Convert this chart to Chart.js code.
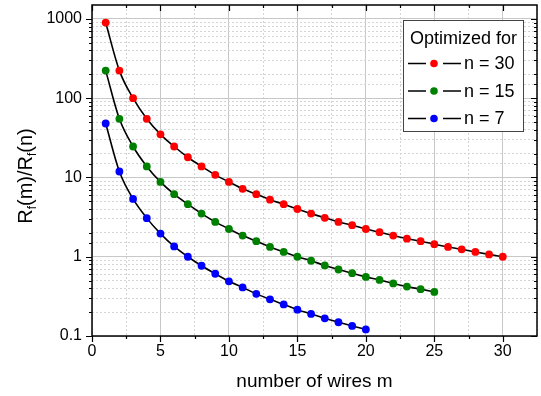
<!DOCTYPE html>
<html>
<head>
<meta charset="utf-8">
<script src="https://cdn.jsdelivr.net/npm/chart.js@4.4.1/dist/chart.umd.min.js"></script>
<style>
  html, body { margin: 0; padding: 0; background: #fff; }
  #wrap { width: 541px; height: 396px; }
</style>
</head>
<body>
<div id="wrap"><canvas id="chart" width="541" height="396"></canvas></div>
<script>
// number of wires m for each series
const mN30 = [1, 2, 3, 4, 5, 6, 7, 8, 9, 10, 11, 12, 13, 14, 15, 16, 17, 18, 19, 20, 21, 22, 23, 24, 25, 26, 27, 28, 29, 30];
const mN15 = [1, 2, 3, 4, 5, 6, 7, 8, 9, 10, 11, 12, 13, 14, 15, 16, 17, 18, 19, 20, 21, 22, 23, 24, 25];
const mN7 = [1, 2, 3, 4, 5, 6, 7, 8, 9, 10, 11, 12, 13, 14, 15, 16, 17, 18, 19, 20];

// Rf(m)/Rf(n)
const ratioN30 = [900, 223, 100, 55, 35, 24.6, 18, 13.8, 10.8, 8.8, 7.2, 6.15, 5.25, 4.6, 4.0,
                  3.5, 3.1, 2.75, 2.5, 2.24, 2.04, 1.85, 1.69, 1.57, 1.44, 1.33, 1.24, 1.15, 1.07, 1.0];
const ratioN15 = [223, 55, 24.6, 13.8, 8.8, 6.15, 4.6, 3.5, 2.75, 2.24, 1.85, 1.57, 1.33, 1.15, 1.0,
                  0.89, 0.776, 0.69, 0.62, 0.557, 0.51, 0.46, 0.42, 0.39, 0.36];
const ratioN7 = [48, 11.9, 5.36, 3.07, 1.96, 1.35, 1.0, 0.77, 0.61, 0.49, 0.41, 0.34, 0.29, 0.25, 0.215,
                 0.19, 0.167, 0.149, 0.134, 0.121];

const seriesLabels = ["n = 30", "n = 15", "n = 7"];
const seriesColors = ["#ff0000", "#008000", "#0000ff"];
const xTickLabels = [0, 5, 10, 15, 20, 25, 30];
const yTickLabels = [0.1, 1, 10, 100, 1000];

const FONT = "'Liberation Sans', Arial, sans-serif";

const toPoints = (xs, ys) => xs.map((x, i) => ({ x: x, y: ys[i] }));

const isDecade = v => Math.abs(Math.log10(v) - Math.round(Math.log10(v))) < 1e-9;
const isFive = v => Math.abs(v / 5 - Math.round(v / 5)) < 1e-9;

function makeSet(label, xs, ys, color) {
    return {
        label: label,
        data: toPoints(xs, ys),
        borderColor: "#000",
        borderWidth: 1.6,
        pointBackgroundColor: color,
        pointBorderColor: color,
        pointBorderWidth: 0,
        pointRadius: 3.9,
        cubicInterpolationMode: "monotone",
        clip: false
    };
}

// frame, tick marks, rotated y title with subscripts, legend box
const decorations = {
    id: "decorations",
    afterDraw(chart) {
        const { ctx, chartArea: a, scales } = chart;
        const xs = scales.x, ys = scales.y;
        ctx.save();
        ctx.strokeStyle = "#000";
        ctx.lineWidth = 1.2;

        // ticks
        ctx.beginPath();
        xs.ticks.forEach(t => {
            if (t.value > 32.4) return;
            const px = Math.round(xs.getPixelForValue(t.value)) + 0.5;
            const len = isFive(t.value) ? 6 : 3;
            ctx.moveTo(px, a.bottom); ctx.lineTo(px, a.bottom + len);
            ctx.moveTo(px, a.top); ctx.lineTo(px, a.top + len);
        });
        ys.ticks.forEach(t => {
            if (t.value > 1000) return;
            const py = Math.round(ys.getPixelForValue(t.value)) + 0.5;
            const len = isDecade(t.value) ? 6 : 3;
            ctx.moveTo(a.left, py); ctx.lineTo(a.left - len, py);
            ctx.moveTo(a.right, py); ctx.lineTo(a.right - len, py);
        });
        ctx.stroke();

        // frame
        ctx.lineWidth = 1.5;
        ctx.strokeRect(a.left, a.top, a.right - a.left, a.bottom - a.top);

        // y title: Rf(m)/Rf(n)
        const parts = [["R", 0], ["f", 1], ["(m)/R", 0], ["f", 1], ["(n)", 0]];
        const big = "20px " + FONT, small = "12px " + FONT;
        let total = 0;
        parts.forEach(p => { ctx.font = p[1] ? small : big; total += ctx.measureText(p[0]).width; });
        ctx.translate(32, 176);
        ctx.rotate(-Math.PI / 2);
        ctx.fillStyle = "#000";
        ctx.textBaseline = "alphabetic";
        ctx.textAlign = "left";
        let x = -total / 2;
        parts.forEach(p => {
            ctx.font = p[1] ? small : big;
            ctx.fillText(p[0], x, p[1] ? 4 : 0);
            x += ctx.measureText(p[0]).width;
        });
        ctx.setTransform(1, 0, 0, 1, 0, 0);

        // legend
        const lx = 403, ly = 20, lw = 120, lh = 111;
        ctx.fillStyle = "#fff";
        ctx.fillRect(lx, ly, lw, lh);
        ctx.strokeStyle = "#444";
        ctx.lineWidth = 1;
        ctx.strokeRect(lx + 0.5, ly + 0.5, lw, lh);
        ctx.fillStyle = "#000";
        ctx.font = "18px " + FONT;
        ctx.textBaseline = "middle";
        ctx.fillText("Optimized for", lx + 7, ly + 19);
        chart.data.datasets.forEach((ds, i) => {
            const cy = ly + 43.5 + i * 27.5;
            ctx.strokeStyle = "#000";
            ctx.lineWidth = 1.6;
            ctx.beginPath();
            ctx.moveTo(lx + 5, cy); ctx.lineTo(lx + 23, cy);
            ctx.moveTo(lx + 40, cy); ctx.lineTo(lx + 58, cy);
            ctx.stroke();
            ctx.fillStyle = ds.pointBackgroundColor;
            ctx.beginPath();
            ctx.arc(lx + 31, cy, 3.8, 0, Math.PI * 2);
            ctx.fill();
            ctx.fillStyle = "#000";
            ctx.fillText(ds.label, lx + 61, cy + 1);
        });
        ctx.restore();
    }
};

const gridColor = major => major ? "#c8c8c8" : "#d4d4d4";

new Chart(document.getElementById("chart").getContext("2d"), {
    type: "line",
    data: {
        datasets: [
            makeSet(seriesLabels[0], mN30, ratioN30, seriesColors[0]),
            makeSet(seriesLabels[1], mN15, ratioN15, seriesColors[1]),
            makeSet(seriesLabels[2], mN7, ratioN7, seriesColors[2])
        ]
    },
    options: {
        responsive: false,
        animation: false,
        devicePixelRatio: 1,
        layout: { padding: { top: 5, right: 4, left: 0, bottom: 0 } },
        plugins: {
            legend: { display: false },
            tooltip: { enabled: false }
        },
        scales: {
            x: {
                type: "linear",
                min: 0,
                max: 32.5,
                afterFit: s => { s.height = 60; s.paddingLeft = 0; s.paddingRight = 0; },
                ticks: {
                    stepSize: 2.5,
                    autoSkip: false,
                    maxRotation: 0,
                    padding: 6,
                    color: "#000",
                    font: { family: FONT, size: 16 },
                    callback: v => (isFive(v) && xTickLabels.includes(v)) ? String(v) : ""
                },
                grid: {
                    drawTicks: false,
                    color: c => c.tick ? gridColor(isFive(c.tick.value)) : "#ccc",
                    lineWidth: 1
                },
                border: {
                    display: false,
                    dash: c => (c.tick && !isFive(c.tick.value)) ? [2, 2] : []
                },
                title: {
                    display: true,
                    text: "number of wires m",
                    color: "#000",
                    font: { family: FONT, size: 19 },
                    padding: { top: 2, bottom: 3 }
                }
            },
            y: {
                type: "logarithmic",
                min: 0.1,
                max: 1500,
                afterFit: s => { s.width = 92; s.paddingTop = 0; s.paddingBottom = 0; },
                ticks: {
                    autoSkip: false,
                    padding: 10,
                    color: "#000",
                    font: { family: FONT, size: 16 },
                    callback: v => yTickLabels.some(t => Math.abs(t - v) < 1e-9) ? String(v) : ""
                },
                grid: {
                    drawTicks: false,
                    color: c => c.tick ? (c.tick.value > 1000 ? "rgba(0,0,0,0)" : gridColor(isDecade(c.tick.value))) : "#ccc",
                    lineWidth: 1
                },
                border: {
                    display: false,
                    dash: c => (c.tick && !isDecade(c.tick.value)) ? [2, 2] : []
                }
            }
        }
    },
    plugins: [decorations]
});
</script>
</body>
</html>
